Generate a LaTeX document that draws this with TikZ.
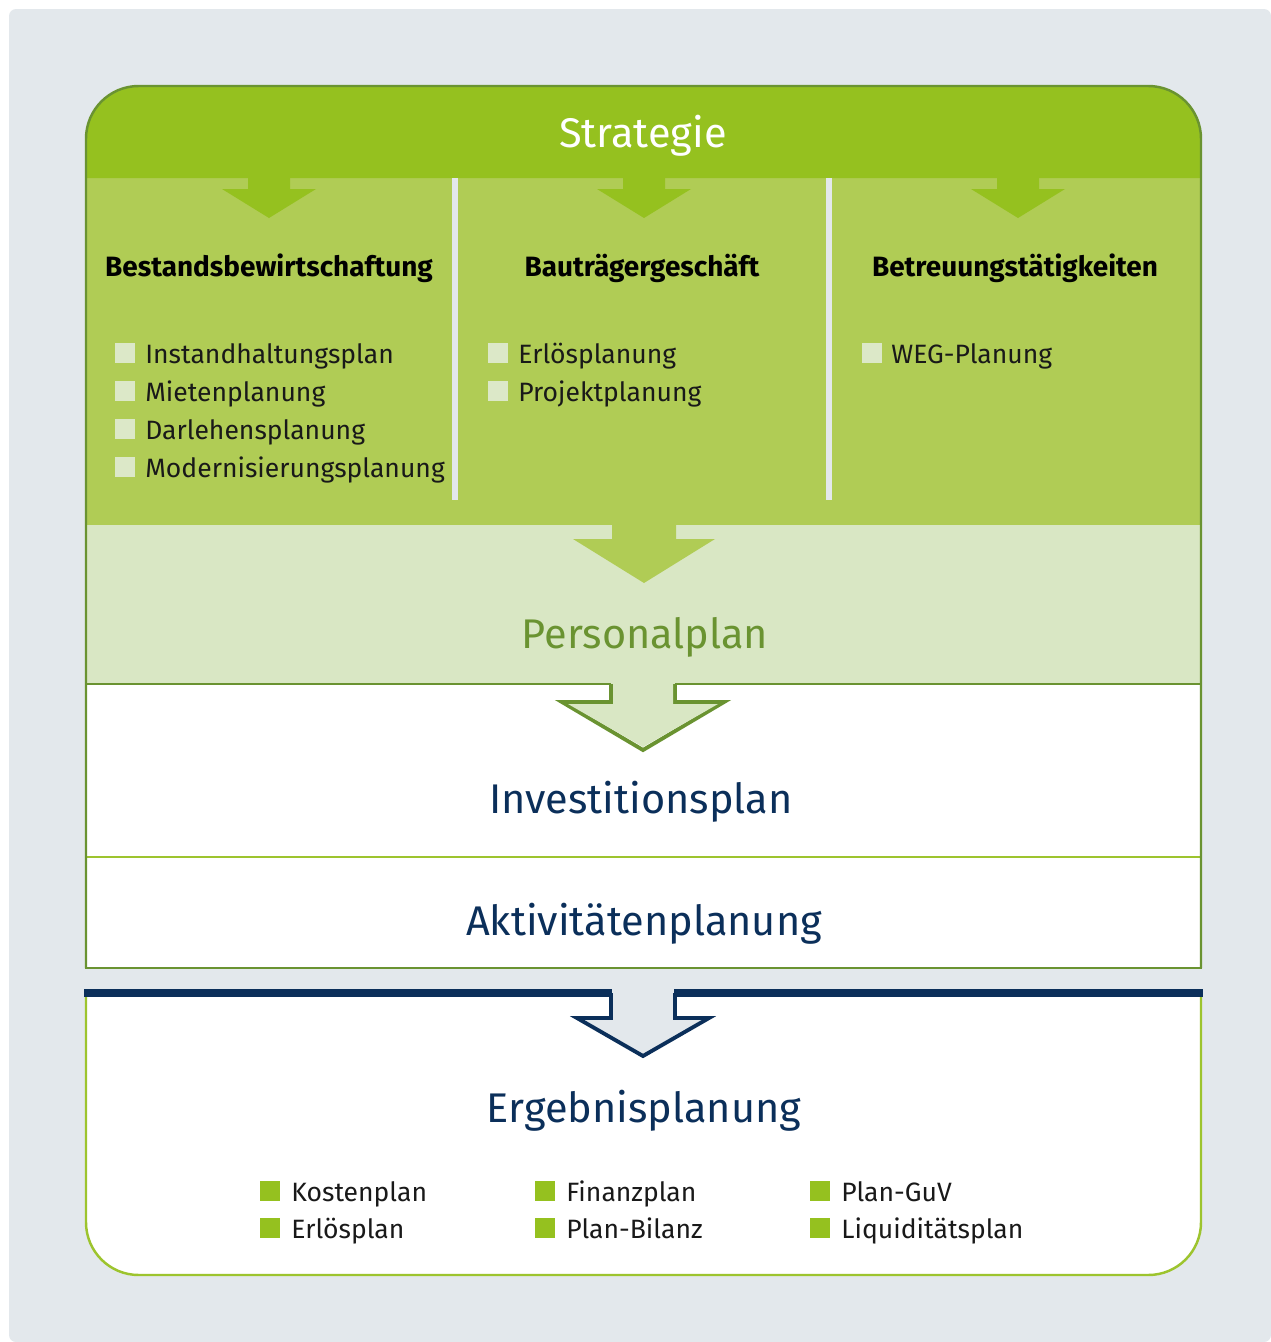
\documentclass[tikz,border=0pt]{standalone}
\usepackage{fontspec}
\setmainfont{Fira Sans}
\usetikzlibrary{positioning}
\definecolor{bggray}{HTML}{E3E8EC}
\definecolor{strgreen}{HTML}{95C11F}
\definecolor{colgreen}{HTML}{B0CC55}
\definecolor{palegreen}{HTML}{D9E7C4}
\definecolor{sqpale}{HTML}{DCE8C8}
\definecolor{olivegreen}{HTML}{6A9331}
\definecolor{navy}{HTML}{0B2F5A}
\definecolor{rimgreen}{HTML}{9DC42E}
\tikzset{
x=0.02cm, y=-0.02cm, % one unit is one pixel of the original, y runs down
title/.style={anchor=base, inner sep=0pt, font=\fontsize{23.6}{28}\selectfont}, % the big level names
colhead/.style={anchor=base, inner sep=0pt, font=\bfseries\fontsize{15.9}{18}\selectfont, text=black}, % column heads
item/.style={anchor=base west, inner sep=0pt, font=\fontsize{15.1}{18}\selectfont, text=black!90}, % list entries
lightsq/.style={minimum size=11.4pt, inner sep=0pt, fill=sqpale}, % bullets in the green part
greensq/.style={minimum size=11.4pt, inner sep=0pt, fill=strgreen}, % bullets in the result part
}
\begin{document}
\begin{tikzpicture}
    \useasboundingbox (0,0) rectangle (1271,1342);
    \fill[bggray, rounded corners=4] (9,9) rectangle (1271,1342);

    % upper box: strategy, columns, staff plan, investment and activities
    \fill[white] (86,684) rectangle (1201,968);
    \fill[palegreen] (86,525) rectangle (1201,684);
    \fill[colgreen] (86,178) rectangle (1201,525);
    \fill[strgreen, rounded corners=30] (86,178) -- (86,86) -- (1201,86) -- (1201,178);
    \foreach \cx in {269,644,1018}
      \fill[strgreen] (\cx-21,177) -- (\cx-21,189) -- (\cx-47,189) -- (\cx,218) -- (\cx+47,189) -- (\cx+21,189) -- (\cx+21,177) -- cycle;
    \foreach \sx in {455,829}
      \draw[bggray, line width=6*0.02cm] (\sx,178) -- (\sx,500);
    \fill[colgreen] (612,524) -- (612,539) -- (573,539) -- (644,583) -- (715,539) -- (676,539) -- (676,524) -- cycle;
    \draw[olivegreen, line width=2.2pt] (611,684) -- (611,702) -- (562,702) -- (643,750) -- (724,702) -- (675,702) -- (675,684);
    \fill[palegreen] (613,682) -- (613,704) -- (568,704) -- (643,747) -- (718,704) -- (673,704) -- (673,682) -- cycle;
    \draw[olivegreen, line width=1.4pt] (86,684) -- (611,684) (675,684) -- (1201,684);
    \draw[rimgreen, line width=1.1pt] (86,857) -- (1201,857);
    \draw[olivegreen, line width=1.4pt, rounded corners=30] (86,968) -- (86,86) -- (1201,86) -- (1201,968);
    \draw[olivegreen, line width=1.4pt, line cap=rect] (86,968) -- (1201,968);

    % lower box: result planning
    \fill[white, rounded corners=30] (86,993) -- (86,1275) -- (1201,1275) -- (1201,993);
    \draw[rimgreen, line width=1.4pt, rounded corners=30] (86,995) -- (86,1275) -- (1201,1275) -- (1201,995);
    \fill[bggray] (611,990) -- (611,1018) -- (577,1018) -- (643,1056) -- (709,1018) -- (675,1018) -- (675,990) -- cycle;
    \draw[navy, line width=2.2pt] (611,993) -- (611,1018) -- (577,1018) -- (643,1056) -- (709,1018) -- (675,1018) -- (675,993);
    \draw[navy, line width=4pt] (84,993) -- (612,993) (674,993) -- (1203,993);

    % level names
    \node[title, text=white] (strat) at (643,147) {Strategie};
    \node[title, text=olivegreen] (pers) at (645,648) {Personalplan};
    \node[title, text=navy] (inv) at (641,813) {Investitionsplan};
    \node[title, text=navy] (akt) at (644,935) {Aktivitätenplanung};
    \node[title, text=navy] (erg) at (644,1122) {Ergebnisplanung};

    % column heads
    \node[colhead] (bestand) at (269,276) {Bestandsbewirtschaftung};
    \node[colhead] (bautr) at (642,276) {Bauträgergeschäft};
    \node[colhead] (betreu) at (1015,276) {Betreuungstätigkeiten};

    % column lists
    \foreach \t [count=\i] in {Instandhaltungsplan, Mietenplanung, Darlehensplanung, Modernisierungsplanung} {
      \node[lightsq] (bsq\i) at (125,{353+38*(\i-1)}) {};
      \node[item] (bit\i) at (145,{363+38*(\i-1)}) {\t};
    }
    \foreach \t [count=\i] in {Erlösplanung, Projektplanung} {
      \node[lightsq] (tsq\i) at (498,{353+38*(\i-1)}) {};
      \node[item] (tit\i) at (518,{363+38*(\i-1)}) {\t};
    }
    \node[lightsq] (wsq1) at (872,353) {};
    \node[item] (wit1) at (891,363) {WEG-Planung};

    % result lists
    \foreach \t/\cx [count=\i] in {Kostenplan/270, Erlösplan/270, Finanzplan/545, Plan-Bilanz/545, Plan-GuV/820, Liquiditätsplan/820} {
      \pgfmathsetmacro\ry{1191+37*(1-mod(\i,2))}
      \node[greensq] (rsq\i) at (\cx,\ry) {};
      \node[item] (rit\i) at (\cx+21,\ry+10) {\t};
    }
\end{tikzpicture}
\end{document}
